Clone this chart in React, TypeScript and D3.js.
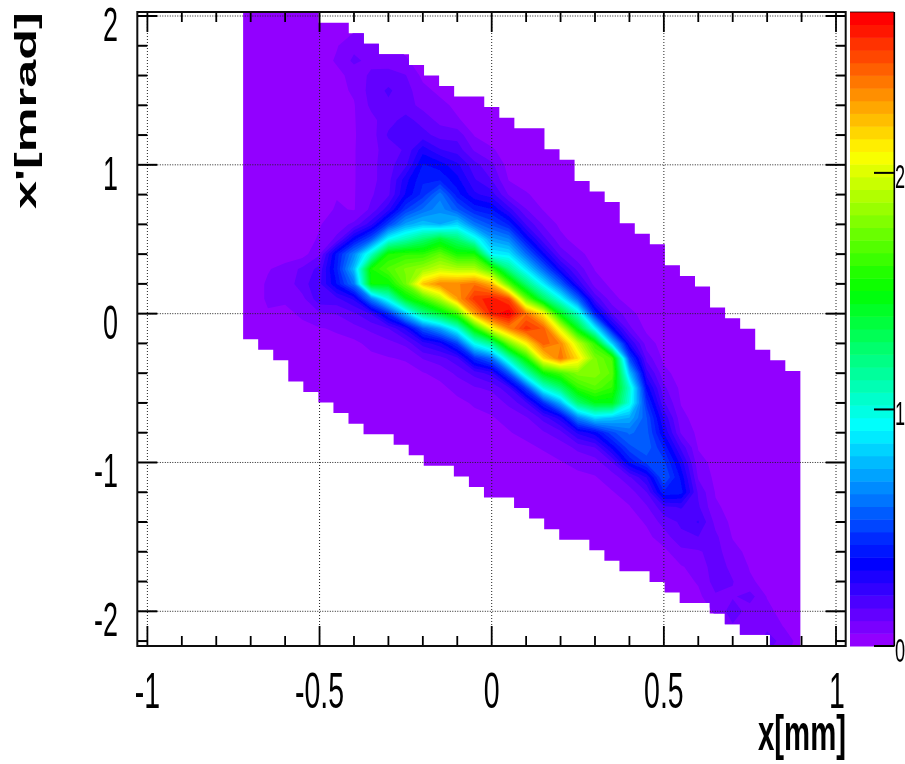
import React, { useMemo } from "react";
import * as d3 from "d3";

// Axis ticks
const xMajorTicks = [-1, -0.5, 0, 0.5, 1];
const xMinorTicks = [-0.9, -0.8, -0.7, -0.6, -0.4, -0.3, -0.2, -0.1, 0.1, 0.2, 0.3, 0.4, 0.6, 0.7, 0.8, 0.9];
const yMajorTicks = [2, 1, 0, -1, -2];
const yMinorTicks = [1.8, 1.6, 1.4, 1.2, 0.8, 0.6, 0.4, 0.2, -0.2, -0.4, -0.6, -0.8, -1.2, -1.4, -1.6, -1.8, -2.2];
const zTicks = [0, 1, 2];

// Histogram bin footprint: first/last occupied row of each of the 37 columns
const topRow = [0,0,0,0,0,1,1,2,3,4,4,5,6,7,8,8,9,10,11,11,13,14,16,17,18,20,21,22,24,25,26,28,29,30,32,33,34];
const bottomRow = [31,32,33,35,36,37,38,39,40,40,41,42,43,43,44,45,46,46,47,48,49,50,50,51,52,53,53,54,55,56,56,57,58,59,59,60,60];

// Surface samples (x 100), one list per x column; each list starts at columnStartY and goes down by 0.1 mrad
const columnX = [-0.65,-0.6,-0.55,-0.5,-0.45,-0.4,-0.35,-0.3,-0.25,-0.2,-0.15,-0.1,-0.05,0,0.05,0.1,0.15,0.2,0.25,0.3,0.35,0.4,0.45,0.5,0.55,0.6,0.65,0.7,0.75,0.8,0.85];
const columnStartY = [0.3,0.3,0.3,0.6,1.9,1.9,2.0,1.8,1.8,1.6,1.5,1.4,1.2,1.1,0.9,0.8,0.7,0.6,0.4,0.3,0.2,0,-0.1,-0.3,-0.5,-0.8,-1.0,-1.3,-1.5,-1.8,-2.1];
const columnValues = [
  [5,6,6,5],
  [7,7,7],
  [12,14,9,7],
  [5,6,10,18,20,20,10,5],
  [4,5,6,4,4,4,4,4,4,4,4,5,6,8,12,40,42,38,20,11,6,4],
  [5,9,12,7,6,5,5,5,5,5,5,5,5,12,36,66,78,62,28,15,9,4],
  [4,5,7,9,12,13,12,9,8,9,9,9,10,12,25,55,105,155,150,65,22,12,7,4],
  [6,8,13,17,15,14,17,13,14,14,15,25,50,95,155,168,150,100,45,16,9,5],
  [4,6,11,13,13,18,20,17,20,30,33,48,72,110,160,178,175,145,80,28,12,6],
  [4,7,9,14,18,30,38,42,45,60,80,125,160,185,220,165,120,55,24,11,5],
  [4,7,9,14,22,35,42,62,68,75,140,172,195,235,190,140,72,30,14,7,4],
  [4,6,14,19,28,34,40,55,85,125,155,190,235,230,165,100,50,20,12,7,4],
  [5,10,18,22,28,42,62,100,155,190,240,255,230,155,96,45,18,10,6,4],
  [6,12,16,24,38,52,72,92,165,225,260,260,205,120,60,24,12,7,5],
  [5,10,24,42,65,88,120,170,250,268,235,175,110,55,20,12,7,5],
  [6,11,21,38,60,88,125,175,240,255,210,155,108,50,20,10,7,4],
  [5,10,18,34,58,90,130,210,245,245,215,150,100,45,18,10,6],
  [4,7,14,30,58,96,145,200,235,240,165,125,75,30,14,8,5],
  [7,14,26,58,105,145,195,215,180,160,125,65,28,12,7,4],
  [5,8,20,42,92,160,178,180,170,145,85,35,16,8,5],
  [4,7,16,36,82,165,170,160,145,80,52,34,16,8,5],
  [7,12,28,52,80,105,100,75,60,52,38,15,8,5],
  [4,8,14,24,36,46,54,56,58,50,27,16,10,6,4],
  [4,7,12,17,26,32,42,50,55,42,20,13,8,4],
  [4,5,7,10,20,30,36,40,22,17,15,9,5],
  [4,5,7,10,15,17,22,16,10,7,6,4],
  [4,4,5,6,9,12,13,14,13,10,6,4],
  [4,4,5,7,9,11,10,14,10,5],
  [4,4,5,6,13,8,7,5],
  [4,5,7,9,14,10],
  [5,8,6],
];

const Z_MAX = 2.68;
const N_COLORS = 50;
const GRID_X0 = -0.75, GRID_DX = 0.05, GRID_NX = 34;
const GRID_Y0 = 2.1, GRID_DY = 0.1, GRID_NY = 45;
const BACKGROUND = 3;

const W = 905, H = 764;
const left = 137.3, right = 845.7, top = 12, bottom = 646;
const x = d3.scaleLinear().domain([-1, 1]).range([147.4, 836]);
const y = d3.scaleLinear().domain([2, -2]).range([16, 611.3]);
const z = d3.scaleLinear().domain([0, Z_MAX]).range([bottom, top]);
const FONT = "'Liberation Sans', Arial, sans-serif";

const palette = d3.range(N_COLORS).map((i) => d3.hsl(280 - (i + 1) * (280 / N_COLORS), 1, 0.5).formatHex());

const binX = (c: number) => -0.722 + c * 0.04372;
const binY = (k: number) => 2.026 - k * 0.0709;

function Txt({ x: px, y: py, sx = 1, size, anchor = "middle", bold = false, rot = 0, children }: any) {
  return (
    <text
      transform={`translate(${px},${py}) rotate(${rot}) scale(${sx},1)`}
      fontFamily={FONT}
      fontSize={size}
      fontWeight={bold ? 700 : 400}
      textAnchor={anchor}
      fill="#000"
    >
      {children}
    </text>
  );
}

export default function App() {
  const bands = useMemo(() => {
    const values = new Array(GRID_NX * GRID_NY).fill(BACKGROUND / 100);
    columnX.forEach((cx, c) => {
      const j = Math.round((cx - GRID_X0) / GRID_DX);
      columnValues[c].forEach((v, n) => {
        const i = Math.round((GRID_Y0 - columnStartY[c]) / GRID_DY) + n;
        values[i * GRID_NX + j] = v / 100;
      });
    });
    const levels = d3.range(1, N_COLORS).map((k) => (k * Z_MAX) / N_COLORS);
    const contours = d3.contours().size([GRID_NX, GRID_NY]).smooth(true).thresholds(levels)(values);
    const path = d3.geoPath(
      d3.geoTransform({
        point(this: any, cx: number, cy: number) {
          this.stream.point(x(GRID_X0 + (cx - 0.5) * GRID_DX), y(GRID_Y0 - (cy - 0.5) * GRID_DY));
        },
      })
    );
    return contours.map((c, i) => ({ d: path(c as any) || "", color: palette[i + 1] }));
  }, []);

  return (
    <svg width={W} height={H} viewBox={`0 0 ${W} ${H}`} style={{ position: "absolute", left: 0, top: 0, display: "block" }}>
      <defs>
        <clipPath id="footprint">
          {topRow.map((t, c) => (
            <rect
              key={c}
              x={x(binX(c))}
              y={y(binY(t))}
              width={x(binX(c + 1)) - x(binX(c)) + 0.3}
              height={y(binY(bottomRow[c])) - y(binY(t))}
            />
          ))}
        </clipPath>
        <filter id="soft" x="0" y="0" width="100%" height="100%">
          <feGaussianBlur stdDeviation="0.45" />
        </filter>
      </defs>
      <rect width={W} height={H} fill="#fff" />
      <g filter="url(#soft)">
        <g clipPath="url(#footprint)">
          <rect x={left} y={top} width={right - left} height={bottom - top} fill={palette[0]} />
          {bands.map((b, i) => (
            <path key={i} d={b.d} fill={b.color} />
          ))}
        </g>

        {xMajorTicks.map((t) => (
          <line key={t} x1={x(t)} x2={x(t)} y1={top} y2={bottom} stroke="#222" strokeWidth={1} strokeDasharray="1 2" />
        ))}
        {yMajorTicks.map((t) => (
          <line key={t} x1={left} x2={right} y1={y(t)} y2={y(t)} stroke="#222" strokeWidth={1} strokeDasharray="1 1.5" />
        ))}

        {xMajorTicks.map((t) => (
          <g key={t} stroke="#000" strokeWidth={1.8}>
            <line x1={x(t)} x2={x(t)} y1={bottom} y2={bottom - 20} />
            <line x1={x(t)} x2={x(t)} y1={top} y2={top + 20} />
          </g>
        ))}
        {xMinorTicks.map((t) => (
          <g key={t} stroke="#000" strokeWidth={1.8}>
            <line x1={x(t)} x2={x(t)} y1={bottom} y2={bottom - 10} />
            <line x1={x(t)} x2={x(t)} y1={top} y2={top + 10} />
          </g>
        ))}
        {yMajorTicks.map((t) => (
          <g key={t} stroke="#000" strokeWidth={2}>
            <line x1={left} x2={left + 20} y1={y(t)} y2={y(t)} />
            <line x1={right} x2={right - 20} y1={y(t)} y2={y(t)} />
          </g>
        ))}
        {yMinorTicks.map((t) => (
          <g key={t} stroke="#000" strokeWidth={2}>
            <line x1={left} x2={left + 10} y1={y(t)} y2={y(t)} />
            <line x1={right} x2={right - 10} y1={y(t)} y2={y(t)} />
          </g>
        ))}
        <rect x={left} y={top} width={right - left} height={bottom - top} fill="none" stroke="#111" strokeWidth={2} />

        {palette.map((c, i) => (
          <rect
            key={c}
            x={850}
            y={z(((i + 1) * Z_MAX) / N_COLORS)}
            width={44}
            height={z((i * Z_MAX) / N_COLORS) - z(((i + 1) * Z_MAX) / N_COLORS) + 0.5}
            fill={c}
          />
        ))}
        <line x1={894.3} x2={894.3} y1={top} y2={bottom} stroke="#000" strokeWidth={1.6} />
        <line x1={850} x2={894} y1={top} y2={top} stroke="#000" strokeWidth={0.8} />
        {zTicks.map((t) => (
          <line key={t} x1={874} x2={894.5} y1={z(t)} y2={z(t)} stroke="#000" strokeWidth={2} />
        ))}

        {yMajorTicks.map((t) => (
          <Txt key={t} x={118} y={y(t) + 25} sx={0.55} size={49} anchor="end">
            {t}
          </Txt>
        ))}
        {xMajorTicks.map((t) => (
          <Txt key={t} x={x(t) - (t === 1 ? -1 : 0)} y={708} sx={0.57} size={50}>
            {t}
          </Txt>
        ))}
        {zTicks.map((t) => (
          <Txt key={t} x={895} y={z(t) + 15.5} sx={0.55} size={33} anchor="start">
            {t}
          </Txt>
        ))}
        <Txt x={846} y={750} sx={0.587} size={50} anchor="end" bold>
          x[mm]
        </Txt>
        <Txt x={36} y={209} sx={1.68} size={30} anchor="start" bold rot={-90}>
          x'[mrad]
        </Txt>
      </g>
    </svg>
  );
}
